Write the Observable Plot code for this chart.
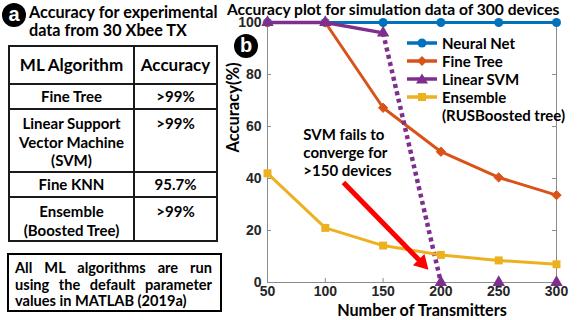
<!DOCTYPE html>
<html>
<head>
<meta charset="utf-8">
<script src="https://cdn.jsdelivr.net/npm/d3@7"></script>
<script src="https://cdn.jsdelivr.net/npm/@observablehq/plot@0.6"></script>
<style>
  html, body { margin: 0; padding: 0; background: #fff; }
  #root { position: relative; width: 581px; height: 320px; overflow: hidden; background: #fff;
          font-family: Lato, "Open Sans", sans-serif; font-weight: bold; color: #000; }
  .abs { position: absolute; }
  .badge { position: absolute; width: 24px; height: 24px; border-radius: 50%; background: #000; color: #fff;
           font-size: 20px; line-height: 22px; text-align: center; font-family: "Liberation Sans", Arial, sans-serif; font-weight: bold; }
  table.t { position: absolute; left: 8px; top: 45px; width: 208px; border-collapse: collapse; table-layout: fixed; }
  table.t td { border: 2px solid #1a1a1a; text-align: center; padding: 0; font-size: 15px; line-height: 18.5px; }
  table.t td.top { vertical-align: top; padding-top: 4px; }
  table.t td.mid { vertical-align: middle; }
  .note { position: absolute; left: 7px; top: 253px; width: 205px; height: 55px; border: 2px solid #000;
          padding: 0 0 0 6px; font-size: 14.6px; line-height: 16.5px; box-sizing: content-box; }
  .note div { width: 197px; }
  .just { text-align: justify; text-align-last: justify; }
  .legend { position: absolute; left: 407px; top: 34px; font-size: 15px; line-height: 18px; }
  .legend .row { display: flex; align-items: center; height: 18px; }
  .legend svg { width: 30px; height: 14px; margin-right: 5px; flex: none; }
</style>
</head>
<body>
<div id="root">
  <div class="badge" style="left:2px; top:3px;">a</div>
  <div class="abs" style="left:29px; top:3px; font-size:16.2px; line-height:18px;">Accuracy for experimental<br>data from 30 Xbee TX</div>
  <table class="t" id="tbl"></table>
  <div class="note">
    <div class="just" style="margin-top:5px;">All ML algorithms are run</div>
    <div class="just">using the default parameter</div>
    <div>values in MATLAB (2019a)</div>
  </div>
  <div class="abs" style="left:227px; top:0px; font-size:15.6px; line-height:normal; white-space:nowrap;" id="rtitle">Accuracy plot for simulation data of 300 devices</div>
  <div class="abs" style="left:225px; top:16px;" id="plot"></div>
  <div class="badge" style="left:234px; top:34px;">b</div>
  <div class="legend" id="legend"></div>
</div>
<script>
// ---- Table data (panel a) ----
const tableHeader = ["ML Algorithm", "Accuracy"];
const algorithms = ["Fine Tree", "Linear Support<br>Vector Machine<br>(SVM)", "Fine KNN", "Ensemble<br>(Boosted Tree)"];
const accuracies = [">99%", ">99%", "95.7%", ">99%"];

// ---- Plot data (panel b) ----
const transmitters = [50, 100, 150, 200, 250, 300];
const neuralNet = [100, 100, 100, 100, 100, 100];
const fineTree = [100, 100, 67.2, 50.3, 40.4, 33.6];
const linearSVM = [100, 100, 96, 0, 0, 0];
const ensemble = [42, 21, 14.2, 10.6, 8.5, 7];
const seriesNames = ["Neural Net", "Fine Tree", "Linear SVM", "Ensemble"];
const seriesSub = ["", "", "", "(RUSBoosted tree)"];
const colors = ["#0072BD", "#D95319", "#7E2F8E", "#EDB120"];
const xTicks = [50, 100, 150, 200, 250, 300];
const yTicks = [0, 20, 40, 60, 80, 100];
const xLabel = "Number of Transmitters";
const yLabel = "Accuracy(%)";
const annotation = [{x: 81, y: 59.6, text: "SVM fails to\nconverge for\n>150 devices"}];
const arrow = [{x1: 115.7, y1: 38.5, x2: 183.6, y2: 7.5}];

// build table
const rowHeights = [38, 25, 63, 25, 44];
const cls = ["mid", "top", "mid", "top"];
let html = `<colgroup><col style="width:125px"><col style="width:83px"></colgroup>`;
html += `<tr style="height:${rowHeights[0]}px"><td class="mid" style="font-size:17px">${tableHeader[0]}</td><td class="mid" style="font-size:17px">${tableHeader[1]}</td></tr>`;
algorithms.forEach((a, i) => {
  html += `<tr style="height:${rowHeights[i + 1]}px"><td class="${cls[i]}">${a}</td><td class="${cls[i]}">${accuracies[i]}</td></tr>`;
});
document.getElementById("tbl").innerHTML = html;

// plot
const rows = s => transmitters.map((x, i) => ({x, y: s[i]}));
const W = 356, H = 304, mL = 42, mR = 25, mT = 6, mB = 38;
const fw = W - mL - mR, fh = H - mT - mB;
const axisGray = "#8c8c8c";
const chart = Plot.plot({
  width: W, height: H, marginLeft: mL, marginRight: mR, marginTop: mT, marginBottom: mB,
  x: {domain: [50, 300]},
  y: {domain: [0, 100]},
  style: {fontFamily: "'Liberation Sans', Arial, sans-serif", fontWeight: "bold", fontSize: "14px", color: "#262626", overflow: "visible", background: "transparent"},
  marks: [
    Plot.frame({stroke: axisGray}),
    Plot.tickX(xTicks, {x: d => d, insetTop: fh - 4, stroke: axisGray}),
    Plot.tickX(xTicks, {x: d => d, insetBottom: fh - 4, stroke: axisGray}),
    Plot.tickY(yTicks, {y: d => d, insetRight: fw - 4, stroke: axisGray}),
    Plot.tickY(yTicks, {y: d => d, insetLeft: fw - 4, stroke: axisGray}),
    Plot.axisX({ticks: xTicks, tickSize: 0, tickPadding: 4, label: null}),
    Plot.axisY({ticks: yTicks, tickSize: 0, tickPadding: 6, label: null}),
    Plot.text([xLabel], {text: d => d, frameAnchor: "bottom", dy: 33, dx: 10, fontSize: 16.2, fontFamily: "Lato", fontWeight: "bold", fill: "#000"}),
    Plot.text([yLabel], {text: d => d, frameAnchor: "left", dx: -34, rotate: -90, fontSize: 16.5, fontFamily: "Lato", fontWeight: "bold", fill: "#000"}),
    // Neural Net
    Plot.line(rows(neuralNet), {x: "x", y: "y", stroke: colors[0], strokeWidth: 3}),
    Plot.dot(rows(neuralNet), {x: "x", y: "y", symbol: "circle", r: 4.5, fill: colors[0]}),
    // Fine Tree
    Plot.line(rows(fineTree), {x: "x", y: "y", stroke: colors[1], strokeWidth: 3}),
    Plot.dot(rows(fineTree), {x: "x", y: "y", symbol: "diamond2", r: 4.2, fill: colors[1], stroke: colors[1], strokeWidth: 1}),
    // Linear SVM
    Plot.line(rows(linearSVM).slice(0, 3), {x: "x", y: "y", stroke: colors[2], strokeWidth: 3.5}),
    Plot.line(rows(linearSVM).slice(2, 4), {x: "x", y: "y", stroke: colors[2], strokeWidth: 4.5, strokeDasharray: "4,3.5", strokeLinecap: "butt"}),
    Plot.dot(rows(linearSVM), {x: "x", y: "y", symbol: "triangle", r: 4.6, fill: colors[2]}),
    // Ensemble
    Plot.line(rows(ensemble), {x: "x", y: "y", stroke: colors[3], strokeWidth: 3}),
    Plot.dot(rows(ensemble), {x: "x", y: "y", symbol: "square", r: 4.5, fill: colors[3]}),
    // annotation
    Plot.text(annotation, {x: "x", y: "y", text: "text", textAnchor: "start", lineAnchor: "top", lineHeight: 1.2, fontSize: 15, fontFamily: "Lato", fontWeight: "bold", fill: "#000"}),
    Plot.link(arrow, {x1: "x1", y1: "y1", x2: "x2", y2: "y2", stroke: "#ff0000", strokeWidth: 5}),
    Plot.dot(arrow, {x: "x2", y: "y2", symbol: "triangle", r: 6, fill: "#ff0000", rotate: 135.6})
  ]
});
document.getElementById("plot").appendChild(chart);

// legend
const shapes = [
  c => `<circle cx="15" cy="7" r="4.5" fill="${c}"/>`,
  c => `<polygon points="15,2 20,7 15,12 10,7" fill="${c}"/>`,
  c => `<polygon points="15,1.5 21,11.5 9,11.5" fill="${c}"/>`,
  c => `<rect x="11" y="3" width="8" height="8" fill="${c}"/>`
];
const leg = document.getElementById("legend");
seriesNames.forEach((n, i) => {
  leg.insertAdjacentHTML("beforeend",
    `<div class="row"><svg viewBox="0 0 30 14"><line x1="0" y1="7" x2="30" y2="7" stroke="${colors[i]}" stroke-width="3.5"/>${shapes[i](colors[i])}</svg><span>${n}</span></div>`);
  if (seriesSub[i]) leg.insertAdjacentHTML("beforeend", `<div class="row"><span style="margin-left:35px">${seriesSub[i]}</span></div>`);
});
</script>
</body>
</html>
